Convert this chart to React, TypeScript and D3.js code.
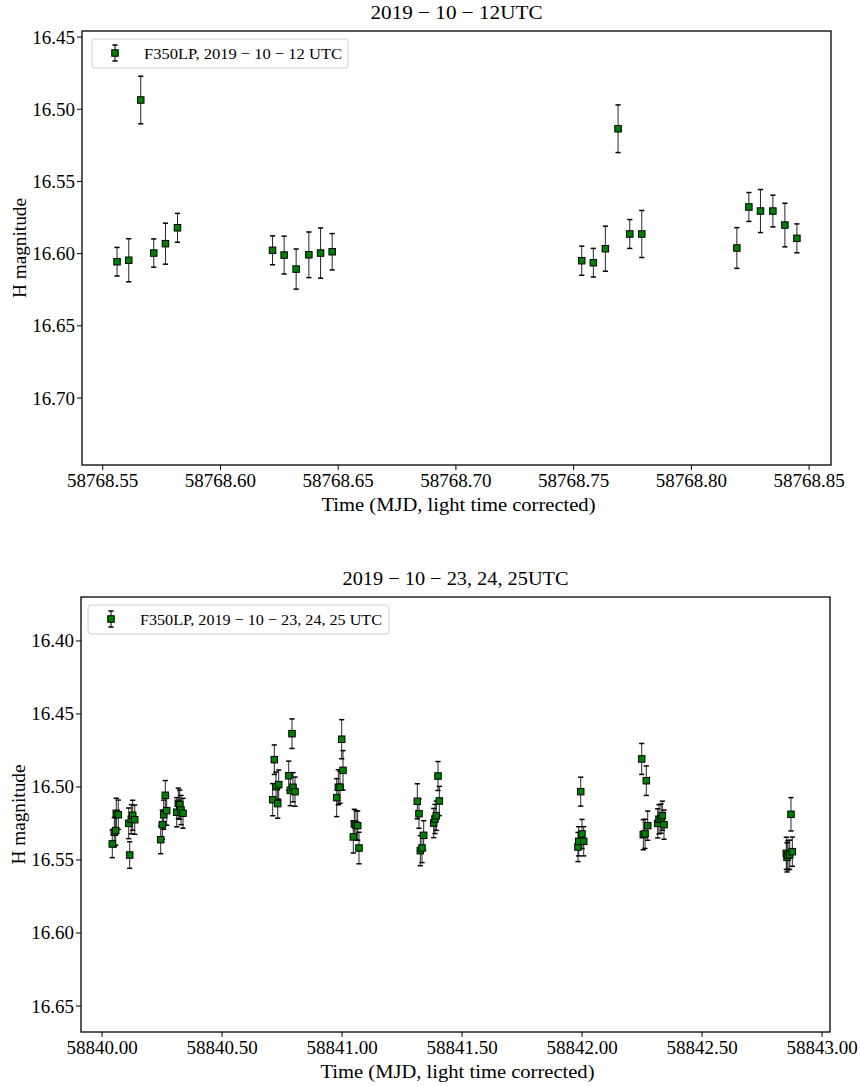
import React from 'react';
import * as d3 from 'd3';

// 2019-10-12 visit
const topTime = [
  58768.55608, 58768.56105, 58768.56615, 58768.57167, 58768.57665, 58768.58175,
  58768.62212, 58768.62705, 58768.63215, 58768.63755, 58768.64252, 58768.64745,
  58768.75344, 58768.75837, 58768.76347, 58768.76887, 58768.77384, 58768.77894,
  58768.81932, 58768.82442, 58768.82935, 58768.83462, 58768.83972, 58768.84482
];
const topMag = [
  16.6056, 16.6046, 16.4936, 16.5996, 16.5931, 16.5821,
  16.5977, 16.6010, 16.6107, 16.6008, 16.5996, 16.5987,
  16.6049, 16.6063, 16.5966, 16.5135, 16.5864, 16.5864,
  16.5961, 16.5677, 16.5705, 16.5705, 16.5802, 16.5894
];
const topErr = [
  0.0099, 0.0149, 0.0165, 0.0098, 0.0142, 0.0100,
  0.0100, 0.0131, 0.0139, 0.0158, 0.0174, 0.0126,
  0.0101, 0.0099, 0.0156, 0.0165, 0.0100, 0.0163,
  0.0141, 0.0100, 0.0149, 0.0110, 0.0151, 0.0100
];

// 2019-10-23/24/25 visits
const botTime = [
  58840.0429, 58840.0513, 58840.0571, 58840.0596, 58840.0679, 58840.1113, 58840.1154, 58840.1221, 58840.1279, 58840.1363,
  58840.2446, 58840.2513, 58840.2571, 58840.2638, 58840.2696, 58840.3113, 58840.3179, 58840.3238, 58840.3292, 58840.3375,
  58840.7113, 58840.7179, 58840.7250, 58840.7321, 58840.7363, 58840.7779, 58840.7846, 58840.7917, 58840.7958, 58840.8042,
  58840.9779, 58840.9846, 58840.9917, 58840.9988, 58841.0042, 58841.0471, 58841.0513, 58841.0583, 58841.0654, 58841.0708,
  58841.3138, 58841.3208, 58841.3263, 58841.3333, 58841.3404, 58841.3821, 58841.3875, 58841.3929, 58841.4000, 58841.4054,
  58841.9833, 58841.9863, 58841.9946, 58842.0000, 58842.0071,
  58842.2488, 58842.2554, 58842.2625, 58842.2679, 58842.2738, 58842.3154, 58842.3208, 58842.3292, 58842.3346, 58842.3417,
  58842.8513, 58842.8542, 58842.8583, 58842.8654, 58842.8708, 58842.8763
];
const botMag = [
  16.5390, 16.5310, 16.5299, 16.5180, 16.5190, 16.5249, 16.5466, 16.5221, 16.5194, 16.5224,
  16.5361, 16.5258, 16.5190, 16.5057, 16.5162, 16.5173, 16.5112, 16.5121, 16.5158, 16.5180,
  16.5087, 16.4813, 16.4998, 16.5114, 16.4984, 16.4923, 16.5023, 16.4635, 16.5002, 16.5032,
  16.5073, 16.5002, 16.5002, 16.4673, 16.4886, 16.5342, 16.5253, 16.5262, 16.5265, 16.5418,
  16.5098, 16.5183, 16.5436, 16.5418, 16.5331, 16.5247, 16.5219, 16.5197, 16.4925, 16.5096,
  16.5411, 16.5372, 16.5032, 16.5322, 16.5372,
  16.4808, 16.5327, 16.5321, 16.4957, 16.5265, 16.5249, 16.5221, 16.5217, 16.5197, 16.5258,
  16.5454, 16.5482, 16.5468, 16.5464, 16.5187, 16.5443
];
const botErr = [
  0.0094, 0.0100, 0.0100, 0.0103, 0.0100, 0.0105, 0.0091, 0.0100, 0.0103, 0.0100,
  0.0096, 0.0100, 0.0100, 0.0101, 0.0100, 0.0100, 0.0104, 0.0100, 0.0100, 0.0102,
  0.0110, 0.0101, 0.0100, 0.0100, 0.0100, 0.0100, 0.0105, 0.0101, 0.0100, 0.0100,
  0.0130, 0.0120, 0.0110, 0.0134, 0.0135, 0.0110, 0.0100, 0.0100, 0.0100, 0.0108,
  0.0120, 0.0100, 0.0103, 0.0100, 0.0100, 0.0100, 0.0100, 0.0100, 0.0099, 0.0100,
  0.0100, 0.0100, 0.0099, 0.0100, 0.0100,
  0.0106, 0.0103, 0.0100, 0.0101, 0.0100, 0.0100, 0.0100, 0.0100, 0.0100, 0.0100,
  0.0110, 0.0100, 0.0100, 0.0100, 0.0114, 0.0100
];

const topXTicks = [58768.55, 58768.6, 58768.65, 58768.7, 58768.75, 58768.8, 58768.85];
const topYTicks = [16.45, 16.5, 16.55, 16.6, 16.65, 16.7];
const botXTicks = [58840, 58840.5, 58841, 58841.5, 58842, 58842.5, 58843];
const botYTicks = [16.4, 16.45, 16.5, 16.55, 16.6, 16.65];

const FONT = '"Liberation Serif", "Times New Roman", serif';
const FS = 19;

type PanelProps = {
  time: number[];
  mag: number[];
  err: number[];
  xDomain: [number, number];
  yDomain: [number, number];
  xTicks: number[];
  yTicks: number[];
  title: string;
  titleWidth: number;
  legend: string;
  legendTextWidth: number;
  box: { left: number; right: number; top: number; bottom: number };
  legendWidth: number;
  legendLeft: number;
};

const Panel = (p: PanelProps) => {
  const { time, mag, err, box } = p;
  const x = d3.scaleLinear().domain(p.xDomain).range([box.left, box.right]);
  // magnitudes: brighter at top
  const y = d3.scaleLinear().domain(p.yDomain).range([box.top, box.bottom]);
  const cx = (box.left + box.right) / 2;
  const cy = (box.top + box.bottom) / 2;
  const ms = 6.5;
  const cap = 2.6;

  const lx = p.legendLeft;
  const ly = box.top + 8;

  return (
    <g fontFamily={FONT}>
      <text x={cx} y={box.top - 12} textAnchor="middle" fontSize={FS}
        textLength={p.titleWidth} lengthAdjust="spacingAndGlyphs">{p.title}</text>

      {/* error bars */}
      {time.map((t, i) => {
        const px = x(t);
        const y1 = y(mag[i] - err[i]);
        const y2 = y(mag[i] + err[i]);
        return (
          <g key={'e' + i} stroke="#000">
            <line x1={px} x2={px} y1={y1} y2={y2} strokeWidth={1} strokeOpacity={0.85} />
            <line x1={px - cap} x2={px + cap} y1={y1} y2={y1} strokeWidth={1.5} />
            <line x1={px - cap} x2={px + cap} y1={y2} y2={y2} strokeWidth={1.5} />
          </g>
        );
      })}
      {/* markers */}
      {time.map((t, i) => (
        <rect key={'m' + i} x={x(t) - ms / 2} y={y(mag[i]) - ms / 2} width={ms} height={ms}
          fill="#008000" stroke="#000" strokeWidth={1} />
      ))}

      {/* frame */}
      <rect x={box.left} y={box.top} width={box.right - box.left} height={box.bottom - box.top}
        fill="none" stroke="#000" strokeWidth={1.3} />

      {/* x axis */}
      {p.xTicks.map((t) => (
        <g key={'xt' + t}>
          <line x1={x(t)} x2={x(t)} y1={box.bottom} y2={box.bottom + 5} stroke="#000" strokeWidth={1} />
          <text x={x(t)} y={box.bottom + 22} textAnchor="middle" fontSize={FS}>{t.toFixed(2)}</text>
        </g>
      ))}
      <text x={cx + 2} y={box.bottom + 46} textAnchor="middle" fontSize={FS}
        textLength={274} lengthAdjust="spacingAndGlyphs">Time (MJD,  light time corrected)</text>

      {/* y axis */}
      {p.yTicks.map((t) => (
        <g key={'yt' + t}>
          <line x1={box.left - 5} x2={box.left} y1={y(t)} y2={y(t)} stroke="#000" strokeWidth={1} />
          <text x={box.left - 7} y={y(t) + 6.5} textAnchor="end" fontSize={FS}>{t.toFixed(2)}</text>
        </g>
      ))}
      <text transform={`translate(${box.left - 56},${cy}) rotate(-90)`} textAnchor="middle" fontSize={FS}
        textLength={100} lengthAdjust="spacingAndGlyphs">H magnitude</text>

      {/* legend */}
      <rect x={lx} y={ly} width={p.legendWidth} height={29} rx={3} fill="#fff" fillOpacity={0.8}
        stroke="#d0d0d0" strokeWidth={1} />
      <g stroke="#000">
        <line x1={lx + 23} x2={lx + 23} y1={ly + 6} y2={ly + 22} strokeWidth={1} />
        <line x1={lx + 23 - cap} x2={lx + 23 + cap} y1={ly + 6} y2={ly + 6} strokeWidth={1.5} />
        <line x1={lx + 23 - cap} x2={lx + 23 + cap} y1={ly + 22} y2={ly + 22} strokeWidth={1.5} />
      </g>
      <rect x={lx + 23 - ms / 2} y={ly + 14 - ms / 2} width={ms} height={ms} fill="#008000" stroke="#000" strokeWidth={1} />
      <text x={lx + 52} y={ly + 19.5} fontSize={15.5}
        textLength={p.legendTextWidth} lengthAdjust="spacingAndGlyphs">{p.legend}</text>
    </g>
  );
};

export default function App() {
  return (
    <svg width={860} height={1086} style={{ position: 'absolute', left: 0, top: 0, background: '#fff' }}>
      <rect width={860} height={1086} fill="#fff" />
      <Panel
        time={topTime} mag={topMag} err={topErr}
        xDomain={[58768.5412, 58768.8593]} yDomain={[16.4458, 16.7464]}
        xTicks={topXTicks} yTicks={topYTicks}
        title="2019 − 10 − 12UTC" titleWidth={172}
        legend="F350LP,  2019 − 10 − 12 UTC" legendTextWidth={198}
        box={{ left: 82, right: 831, top: 31, bottom: 465 }}
        legendWidth={256} legendLeft={92}
      />
      <Panel
        time={botTime} mag={botMag} err={botErr}
        xDomain={[58839.9125, 58843.0333]} yDomain={[16.3699, 16.6678]}
        xTicks={botXTicks} yTicks={botYTicks}
        title="2019 − 10 − 23, 24, 25UTC" titleWidth={226}
        legend="F350LP,  2019 − 10 − 23, 24, 25 UTC" legendTextWidth={242}
        box={{ left: 81, right: 830, top: 597, bottom: 1032 }}
        legendWidth={301} legendLeft={88}
      />
    </svg>
  );
}
